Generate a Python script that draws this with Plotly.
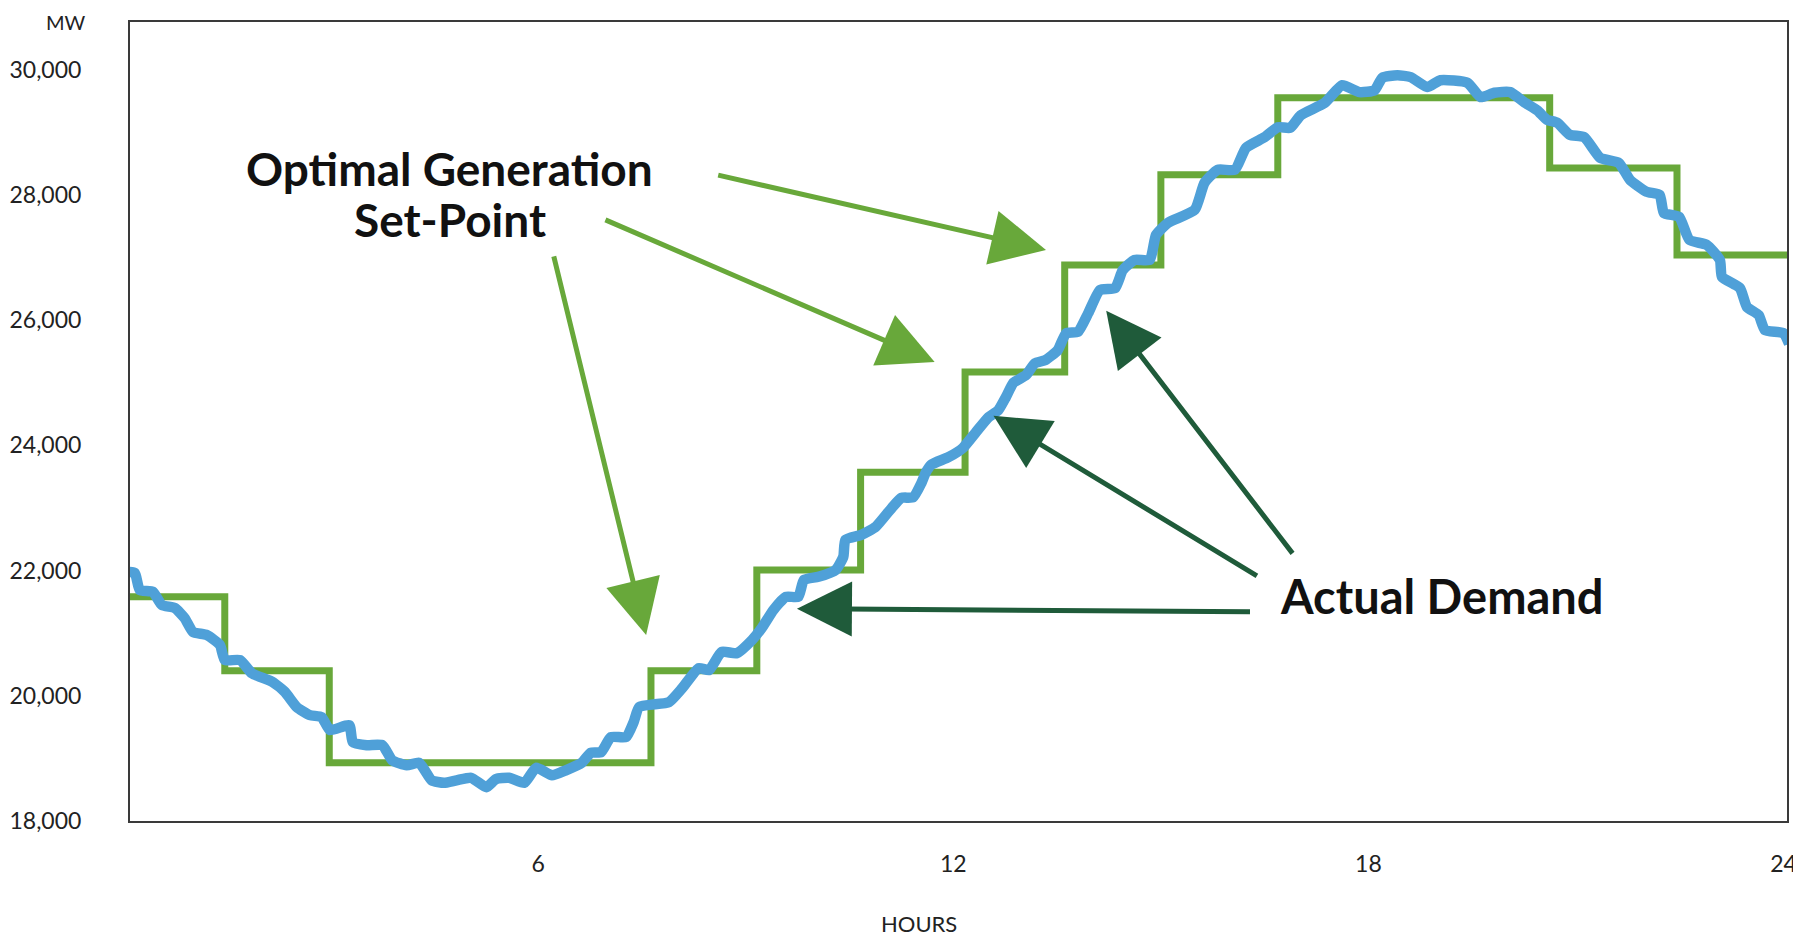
import plotly.graph_objects as go

# set-point steps (hour where each level starts, MW)
setpoint_hours = [0.1, 1.47, 2.98, 7.63, 9.16, 10.66, 12.17, 13.61, 15.0, 16.69, 20.62, 22.46, 24.05]
setpoint_mw = [21580, 20400, 18930, 20400, 22010, 23570, 25170, 26880, 28320, 29550, 28430, 27040, 27040]

# actual demand
demand_hours = [
    0.03, 0.17, 0.24, 0.43, 0.56, 0.75, 0.89, 1.01, 1.21, 1.40,
    1.47, 1.69, 1.86, 2.16, 2.34, 2.51, 2.70, 2.87, 2.99, 3.27,
    3.32, 3.52, 3.75, 3.89, 4.10, 4.28, 4.46, 4.64, 4.82, 5.03,
    5.25, 5.39, 5.58, 5.80, 5.97, 6.20, 6.40, 6.63, 6.76, 6.91,
    7.05, 7.27, 7.38, 7.46, 7.89, 8.08, 8.32, 8.47, 8.65, 8.87,
    9.09, 9.23, 9.40, 9.58, 9.76, 9.84, 10.05, 10.30, 10.41, 10.44,
    10.67, 10.88, 11.11, 11.25, 11.42, 11.54, 11.60, 11.68, 11.93, 12.14,
    12.32, 12.51, 12.65, 12.76, 12.87, 13.05, 13.18, 13.33, 13.51, 13.63,
    13.80, 13.95, 14.12, 14.34, 14.45, 14.62, 14.84, 14.93, 15.10, 15.49,
    15.63, 15.82, 16.07, 16.23, 16.50, 16.69, 16.87, 17.02, 17.37, 17.62,
    17.87, 18.09, 18.20, 18.42, 18.61, 18.85, 19.04, 19.43, 19.62, 19.82,
    20.05, 20.25, 20.44, 20.58, 20.73, 20.91, 21.12, 21.35, 21.62, 21.78,
    22.02, 22.21, 22.27, 22.49, 22.64, 22.89, 23.08, 23.11, 23.37, 23.47,
    23.64, 23.73, 24.00, 24.08,
]
demand_mw = [
    21980, 21960, 21690, 21660, 21450, 21400, 21240, 21020, 20970, 20810,
    20570, 20570, 20360, 20220, 20060, 19820, 19690, 19660, 19450, 19530,
    19260, 19210, 19210, 18970, 18890, 18930, 18650, 18610, 18650, 18690,
    18540, 18670, 18690, 18610, 18850, 18730, 18810, 18930, 19090, 19100,
    19340, 19340, 19580, 19820, 19900, 20120, 20440, 20410, 20700, 20680,
    20890, 21080, 21370, 21580, 21580, 21850, 21900, 22010, 22220, 22490,
    22570, 22700, 23000, 23160, 23170, 23400, 23560, 23690, 23810, 23960,
    24200, 24450, 24560, 24770, 25000, 25120, 25310, 25360, 25520, 25790,
    25810, 26110, 26480, 26510, 26800, 26960, 26960, 27360, 27550, 27760,
    28190, 28400, 28400, 28750, 28920, 29080, 29070, 29270, 29470, 29750,
    29640, 29670, 29870, 29910, 29880, 29720, 29830, 29790, 29560, 29630,
    29640, 29480, 29350, 29200, 29150, 28960, 28920, 28590, 28510, 28240,
    28050, 28000, 27710, 27650, 27280, 27200, 26960, 26690, 26510, 26210,
    26080, 25840, 25790, 25620,
]

x_ticks = [6, 12, 18, 24]
y_ticks = [18000, 20000, 22000, 24000, 26000, 28000, 30000]

GREEN = '#68a83a'
BLUE = '#4fa0d8'
DARK = '#1f5b3a'
FONT = 'Lato'

fig = go.Figure()
fig.add_trace(go.Scatter(x=setpoint_hours, y=setpoint_mw, mode='lines',
                         line=dict(color=GREEN, width=7, shape='hv'),
                         name='Optimal Generation Set-Point'))
fig.add_trace(go.Scatter(x=demand_hours, y=demand_mw, mode='lines',
                         line=dict(color=BLUE, width=10.5, shape='spline', smoothing=0.5),
                         name='Actual Demand'))

# arrows: (tip x, tip y, tail x, tail y)
green_arrows = [(7.56, 20970, 6.22, 27040),
                (11.73, 25330, 6.95, 27610),
                (13.34, 27120, 8.58, 28320)]
dark_arrows = [(9.74, 21390, 16.31, 21340),
               (12.58, 24470, 16.41, 21900),
               (14.21, 26150, 16.92, 22250)]

for tip_x, tip_y, tail_x, tail_y in green_arrows:
    fig.add_annotation(x=tip_x, y=tip_y, ax=tail_x, ay=tail_y, xref='x', yref='y',
                       axref='x', ayref='y', text='', showarrow=True,
                       arrowhead=2, arrowsize=2.2, arrowwidth=5, arrowcolor=GREEN)
for tip_x, tip_y, tail_x, tail_y in dark_arrows:
    fig.add_annotation(x=tip_x, y=tip_y, ax=tail_x, ay=tail_y, xref='x', yref='y',
                       axref='x', ayref='y', text='', showarrow=True,
                       arrowhead=2, arrowsize=2.2, arrowwidth=5, arrowcolor=DARK)

label_font = dict(family=FONT, size=46, color='#111111')
fig.add_annotation(x=4.72, y=28420, xref='x', yref='y', showarrow=False,
                   xanchor='center', yanchor='middle',
                   text='<b>Optimal Generation</b>', font=label_font)
fig.add_annotation(x=4.72, y=27610, xref='x', yref='y', showarrow=False,
                   xanchor='center', yanchor='middle',
                   text='<b>Set-Point</b>', font=label_font)
fig.add_annotation(x=19.07, y=21590, xref='x', yref='y', showarrow=False,
                   xanchor='center', yanchor='middle',
                   text='<b>Actual Demand</b>', font=dict(family=FONT, size=47, color='#111111'))

fig.add_annotation(x=-0.0386, y=1.0, xref='paper', yref='paper', showarrow=False,
                   xanchor='center', yanchor='middle', borderpad=0,
                   text='MW', font=dict(family=FONT, size=20, color='#222222'))
fig.add_annotation(x=0.4762, y=-0.1277, xref='paper', yref='paper', showarrow=False,
                   xanchor='center', yanchor='middle',
                   text='HOURS', font=dict(family=FONT, size=22, color='#222222'))

fig.update_xaxes(range=[0.1, 24.05], tickvals=x_ticks, showgrid=False, zeroline=False,
                 showline=True, mirror=True, linecolor='#3a3a3a', linewidth=2,
                 ticks='', ticklabelstandoff=21, automargin=False,
                 ticklabeloverflow='allow',
                 tickfont=dict(family=FONT, size=23, color='#222222'))
fig.update_yaxes(range=[18000, 30760], tickvals=y_ticks, tickformat=',',
                 showgrid=False, zeroline=False,
                 showline=True, mirror=True, linecolor='#3a3a3a', linewidth=2,
                 ticks='', ticklabelstandoff=42, automargin=False,
                 ticklabeloverflow='allow',
                 tickfont=dict(family=FONT, size=23, color='#222222'))

# page body adds an 8px offset, so the figure is sized to end at the window edge
fig.update_layout(width=1793, height=932, showlegend=False,
                  plot_bgcolor='white', paper_bgcolor='white',
                  margin=dict(l=122, r=14, t=14, b=119))

fig.write_html('out.html')
